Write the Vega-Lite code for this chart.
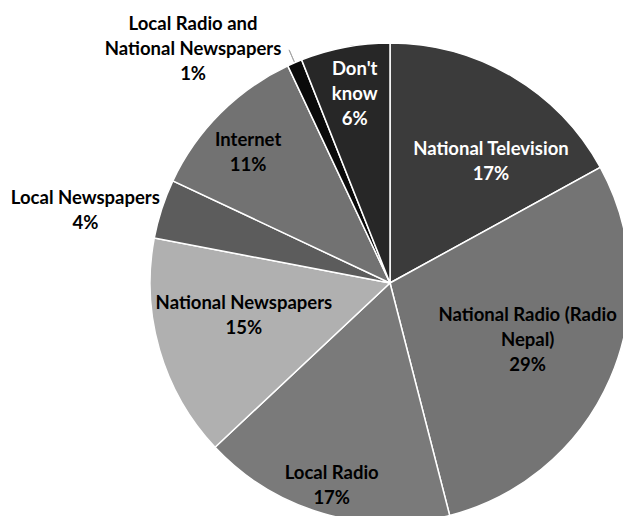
{
  "$schema": "https://vega.github.io/schema/vega-lite/v6.json",
  "autosize": {"type": "none"},
  "padding": {"left": 157, "top": 50, "right": 0, "bottom": 0},
  "width": 466,
  "height": 466,
  "background": "white",
  "config": {"view": {"stroke": null}, "text": {"font": "Lato", "fontWeight": "bold", "fontSize": 18.5, "lineBreak": "\n", "lineHeight": 25, "align": "center", "baseline": "middle"}},
  "data": {
    "values": [
      {"order": 1, "category": "National Television", "label": "National Television", "value": 17},
      {"order": 2, "category": "National Radio (Radio Nepal)", "label": "National Radio (Radio\nNepal)", "value": 29},
      {"order": 3, "category": "Local Radio", "label": "Local Radio", "value": 17},
      {"order": 4, "category": "National Newspapers", "label": "National Newspapers", "value": 15},
      {"order": 5, "category": "Local Newspapers", "label": "Local Newspapers", "value": 4},
      {"order": 6, "category": "Internet", "label": "Internet", "value": 11},
      {"order": 7, "category": "Local Radio and National Newspapers", "label": "Local Radio and\nNational Newspapers", "value": 1},
      {"order": 8, "category": "Don't know", "label": "Don't\nknow", "value": 6}
    ]
  },
  "transform": [
    {"stack": "value", "groupby": [], "sort": [{"field": "order", "order": "ascending"}], "as": ["start", "end"]},
    {"calculate": "(datum.start + datum.end) / 2", "as": "mid"},
    {"calculate": "datum.label + '\\n' + datum.value + '%'", "as": "txt"}
  ],
  "layer": [
    {
      "mark": {"type": "arc", "radius": 240, "stroke": "white", "strokeWidth": 1.5},
      "encoding": {
        "theta": {"field": "start", "type": "quantitative", "scale": {"domain": [0, 100]}},
        "theta2": {"field": "end"},
        "color": {
          "field": "category",
          "type": "nominal",
          "legend": null,
          "scale": {
            "domain": ["National Television", "National Radio (Radio Nepal)", "Local Radio", "National Newspapers", "Local Newspapers", "Internet", "Local Radio and National Newspapers", "Don't know"],
            "range": ["#3b3b3b", "#747474", "#7a7a7a", "#b0b0b0", "#5c5c5c", "#727272", "#0a0a0a", "#272727"]
          }
        }
      }
    },
    {
      "transform": [{"filter": "datum.category === 'Local Radio and National Newspapers'"}],
      "mark": {"type": "arc", "radius": 254, "radius2": 241, "fillOpacity": 0, "stroke": "#a6a6a6", "strokeWidth": 1},
      "encoding": {
        "theta": {"field": "mid", "type": "quantitative"},
        "theta2": {"field": "mid"}
      }
    },
    {
      "transform": [{"filter": "datum.category === 'National Television'"}],
      "mark": {"type": "text", "radius": 159, "dx": 20, "dy": 3, "color": "white"},
      "encoding": {"theta": {"field": "mid", "type": "quantitative"}, "text": {"field": "txt"}}
    },
    {
      "transform": [{"filter": "datum.category === 'National Radio (Radio Nepal)'"}],
      "mark": {"type": "text", "radius": 150, "dx": 0, "dy": -28, "color": "black"},
      "encoding": {"theta": {"field": "mid", "type": "quantitative"}, "text": {"field": "txt"}}
    },
    {
      "transform": [{"filter": "datum.category === 'Local Radio'"}],
      "mark": {"type": "text", "radius": 209, "dy": -11, "color": "black"},
      "encoding": {"theta": {"field": "mid", "type": "quantitative"}, "text": {"field": "txt"}}
    },
    {
      "transform": [{"filter": "datum.category === 'National Newspapers'"}],
      "mark": {"type": "text", "radius": 149, "dx": -3, "dy": -22, "color": "black"},
      "encoding": {"theta": {"field": "mid", "type": "quantitative"}, "text": {"field": "txt"}}
    },
    {
      "transform": [{"filter": "datum.category === 'Local Newspapers'"}],
      "mark": {"type": "text", "radius": 314, "dx": -6, "dy": 12, "color": "black"},
      "encoding": {"theta": {"field": "mid", "type": "quantitative"}, "text": {"field": "txt"}}
    },
    {
      "transform": [{"filter": "datum.category === 'Internet'"}],
      "mark": {"type": "text", "radius": 195, "dx": -4, "dy": -5, "color": "black"},
      "encoding": {"theta": {"field": "mid", "type": "quantitative"}, "text": {"field": "txt"}}
    },
    {
      "transform": [{"filter": "datum.category === 'Local Radio and National Newspapers'"}],
      "mark": {"type": "text", "radius": 307, "dx": -75, "dy": 23, "color": "black"},
      "encoding": {"theta": {"field": "mid", "type": "quantitative"}, "text": {"field": "txt"}}
    },
    {
      "transform": [{"filter": "datum.category === \"Don't know\""}],
      "mark": {"type": "text", "radius": 194, "dx": 1, "dy": -23, "color": "white"},
      "encoding": {"theta": {"field": "mid", "type": "quantitative"}, "text": {"field": "txt"}}
    }
  ]
}
